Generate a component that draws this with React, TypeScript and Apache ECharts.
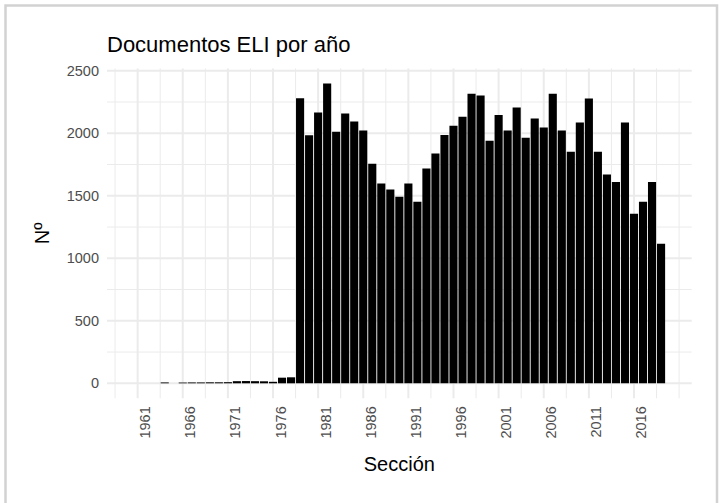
import React, { useEffect, useRef } from "react";
import * as echarts from "echarts";

// ---- data ----
const years: number[] = [
  1964, 1966, 1967, 1968, 1969, 1970, 1971, 1972, 1973, 1974, 1975, 1976, 1977, 1978,
  1979, 1980, 1981, 1982, 1983, 1984, 1985, 1986, 1987, 1988, 1989, 1990, 1991, 1992,
  1993, 1994, 1995, 1996, 1997, 1998, 1999, 2000, 2001, 2002, 2003, 2004, 2005, 2006,
  2007, 2008, 2009, 2010, 2011, 2012, 2013, 2014, 2015, 2016, 2017, 2018, 2019,
];
const counts: number[] = [
  7, 6, 7, 7, 8, 8, 9, 17, 18, 17, 16, 12, 45, 48,
  2280, 1985, 2167, 2399, 2012, 2159, 2095, 2023, 1756, 1599, 1551, 1492, 1599, 1452,
  1719, 1839, 1986, 2060, 2132, 2316, 2303, 1940, 2146, 2023, 2207, 1964, 2119, 2047,
  2316, 2023, 1852, 2087, 2279, 1852, 1671, 1610, 2087, 1356, 1452, 1610, 1117,
];
const xBreaks: number[] = [1961, 1966, 1971, 1976, 1981, 1986, 1991, 1996, 2001, 2006, 2011, 2016];
const xMinorBreaks: number[] = [
  1958.5, 1963.5, 1968.5, 1973.5, 1978.5, 1983.5, 1988.5, 1993.5, 1998.5, 2003.5, 2008.5,
  2013.5, 2018.5, 2021,
];
const yBreaks: number[] = [0, 500, 1000, 1500, 2000, 2500];
const yMinorBreaks: number[] = [250, 750, 1250, 1750, 2250];

const TITLE = "Documentos ELI por año";
const X_NAME = "Sección";
const Y_NAME = "Nº";

// ---- layout ----
const W = 719;
const H = 503;
const GRID_LEFT = 107;
const GRID_RIGHT = 27.3;
const GRID_TOP = 68.4;
const GRID_BOTTOM = 104.7;
const FONT = "'Liberation Sans', Arial, Helvetica, sans-serif";

export default function App() {
  const ref = useRef<HTMLDivElement>(null);

  useEffect(() => {
    if (!ref.current) return;
    const chart = echarts.init(ref.current, undefined, { renderer: "svg" });

    // ggplot-like expansions (5%)
    const dataXMin = 1961 - 0.45;
    const dataXMax = years[years.length - 1] + 0.45;
    const xPad = (dataXMax - dataXMin) * 0.05;
    const xMin = dataXMin - xPad;
    const xMax = dataXMax + xPad;
    const yTop = Math.max(...counts);
    const yMin = -0.05 * yTop;
    const yMax = yTop * 1.05;

    const plotW = W - GRID_LEFT - GRID_RIGHT;
    const barPx = (0.9 * plotW) / (xMax - xMin);

    const gridData: number[][] = [
      ...xBreaks.map((v) => [v, 0]),
      ...xMinorBreaks.map((v) => [v, 1]),
      ...yBreaks.map((v) => [v, 2]),
      ...yMinorBreaks.map((v) => [v, 3]),
    ];

    chart.setOption({
      animation: false,
      backgroundColor: "#ffffff",
      title: {
        text: TITLE,
        left: GRID_LEFT,
        top: 33,
        padding: 0,
        textStyle: { fontFamily: FONT, fontSize: 22, fontWeight: "normal", color: "#000000" },
      },
      grid: { left: GRID_LEFT, right: GRID_RIGHT, top: GRID_TOP, bottom: GRID_BOTTOM, containLabel: false },
      xAxis: {
        type: "value",
        min: xMin,
        max: xMax,
        name: X_NAME,
        nameLocation: "middle",
        nameGap: 56,
        nameTextStyle: { fontFamily: FONT, fontSize: 20, color: "#000000" },
        axisLine: { show: false },
        axisTick: { show: false },
        splitLine: { show: false },
        axisLabel: {
          customValues: xBreaks,
          rotate: 90,
          verticalAlign: "top",
          margin: 8,
          formatter: (v: number) => String(Math.round(v)),
          color: "#4d4d4d",
          fontFamily: FONT,
          fontSize: 14.5,
        },
      },
      yAxis: {
        type: "value",
        min: yMin,
        max: yMax,
        name: Y_NAME,
        nameLocation: "middle",
        nameGap: 55,
        nameTextStyle: { fontFamily: FONT, fontSize: 20, color: "#000000" },
        axisLine: { show: false },
        axisTick: { show: false },
        splitLine: { show: false },
        axisLabel: {
          customValues: yBreaks,
          margin: 8,
          formatter: (v: number) => String(Math.round(v)),
          color: "#4d4d4d",
          fontFamily: FONT,
          fontSize: 14.5,
        },
      },
      series: [
        {
          type: "custom",
          silent: true,
          z: 0,
          encode: { x: 0, y: 1 },
          data: gridData,
          renderItem: (params: any, api: any) => {
            const cs = params.coordSys;
            const v = api.value(0);
            const kind = api.value(1);
            if (kind < 2) {
              const p = api.coord([v, 0]);
              return {
                type: "line",
                shape: { x1: p[0], y1: cs.y, x2: p[0], y2: cs.y + cs.height },
                style: { stroke: "#ebebeb", lineWidth: kind === 0 ? 2 : 1 },
              };
            }
            const p = api.coord([xMin, v]);
            return {
              type: "line",
              shape: { x1: cs.x, y1: p[1], x2: cs.x + cs.width, y2: p[1] },
              style: { stroke: "#ebebeb", lineWidth: kind === 2 ? 2 : 1 },
            };
          },
        },
        {
          type: "bar",
          z: 2,
          barWidth: barPx,
          itemStyle: { color: "#000000" },
          data: years.map((y, i) => [y, counts[i]]),
        },
      ],
      graphic: [
        {
          type: "rect",
          silent: true,
          shape: { x: 5.5, y: 5.5, width: 711.5, height: 520 },
          style: { fill: "none", stroke: "#d2d2d2", lineWidth: 2.5 },
          z: 100,
        },
      ],
    });

    return () => chart.dispose();
  }, []);

  return (
    <div
      ref={ref}
      style={{ position: "absolute", left: 0, top: 0, width: W, height: H, background: "#fff" }}
    />
  );
}
